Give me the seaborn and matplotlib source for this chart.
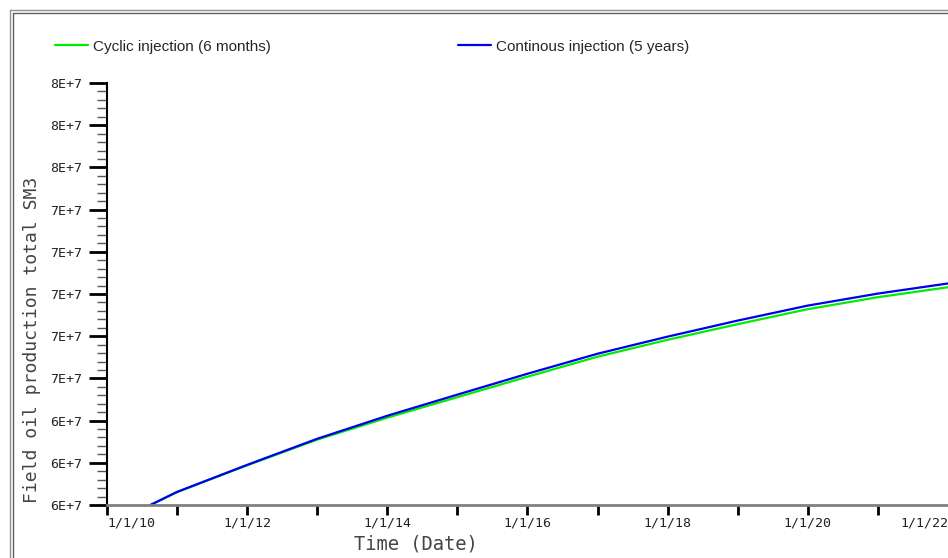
import numpy as np
import pandas as pd
import matplotlib
matplotlib.use("Agg")
import matplotlib.pyplot as plt
import matplotlib.dates as mdates
from matplotlib.lines import Line2D
import seaborn as sns

# ---- data ----
dates = ["2010-08-15", "2011-01-01", "2012-01-01", "2013-01-01", "2014-01-01",
         "2015-01-01", "2016-01-01", "2017-01-01", "2018-01-01", "2019-01-01",
         "2020-01-01", "2021-01-01", "2022-01-01"]
cyclic = [6.000e7, 6.061e7, 6.188e7, 6.310e7, 6.414e7, 6.511e7, 6.608e7,
          6.703e7, 6.783e7, 6.857e7, 6.928e7, 6.985e7, 7.032e7]
continuous = [6.000e7, 6.062e7, 6.190e7, 6.314e7, 6.423e7, 6.523e7, 6.622e7,
              6.717e7, 6.798e7, 6.874e7, 6.945e7, 7.002e7, 7.050e7]
series_names = ["Cyclic injection (6 months)", "Continous injection (5 years)"]
series_colors = ["#00ee00", "#0000ee"]

ytick_values = [6.0e7, 6.2e7, 6.4e7, 6.6e7, 6.8e7, 7.0e7, 7.2e7, 7.4e7, 7.6e7, 7.8e7, 8.0e7]
ytick_labels = ["6E+7", "6E+7", "6E+7", "7E+7", "7E+7", "7E+7", "7E+7", "7E+7", "8E+7", "8E+7", "8E+7"]
xtick_dates = ["2010-01-01", "2012-01-01", "2014-01-01", "2016-01-01",
               "2018-01-01", "2020-01-01", "2022-01-01"]
xtick_labels = ["1/1/10", "1/1/12", "1/1/14", "1/1/16", "1/1/18", "1/1/20", "1/1/22"]
xminor_dates = ["2011-01-01", "2013-01-01", "2015-01-01", "2017-01-01",
                "2019-01-01", "2021-01-01"]

df = pd.DataFrame({
    "date": pd.to_datetime(dates * 2),
    "value": cyclic + continuous,
    "series": [series_names[0]] * len(dates) + [series_names[1]] * len(dates),
})

sns.set_style("white")
plt.rcParams["font.family"] = ["DejaVu Sans Mono", "DejaVu Sans"]

fig = plt.figure(figsize=(9.48, 5.58), dpi=100)
ax = fig.add_axes([107 / 948, (558 - 505) / 558, (948 - 107) / 948, (505 - 83) / 558])

sns.lineplot(data=df, x="date", y="value", hue="series", hue_order=series_names,
             palette=series_colors, linewidth=1.6, ax=ax, legend=False)

ax.set_xlim(pd.Timestamp("2010-01-01"), pd.Timestamp("2022-01-01"))
ax.set_ylim(ytick_values[0], ytick_values[-1])

# y ticks
ax.set_yticks(ytick_values)
ax.set_yticklabels(ytick_labels)
ax.yaxis.set_minor_locator(matplotlib.ticker.AutoMinorLocator(5))
ax.tick_params(axis="y", which="major", direction="out", length=13, width=2,
               color="black", labelsize=9.5, labelcolor="#222222", pad=5, left=True)
ax.tick_params(axis="y", which="minor", direction="out", length=7, width=1,
               color="#555555", left=True)

# x ticks
xt = mdates.date2num(pd.to_datetime(xtick_dates))
ax.set_xticks(xt)
ax.set_xticklabels(xtick_labels)
ax.set_xticks(mdates.date2num(pd.to_datetime(xminor_dates)), minor=True)
ax.tick_params(axis="x", which="both", direction="out", length=7, width=2,
               color="black", labelsize=9.5, labelcolor="#222222", pad=1.5, bottom=True)
ax.get_xticklabels()[-1].set_ha("right")
ax.get_xticklabels()[0].set_ha("left")
ax.xaxis.get_major_ticks()[-1].tick1line.set_visible(False)

for s in ["top", "right"]:
    ax.spines[s].set_visible(False)
ax.spines["left"].set_color("black")
ax.spines["left"].set_linewidth(1.5)
ax.spines["bottom"].set_color("#808080")
ax.spines["bottom"].set_linewidth(2)

ax.set_xlabel("Time (Date)", fontsize=13.5, color="#444444")
ax.xaxis.set_label_coords((416 - 107) / 841, -(534 - 505) / 422)
ax.set_ylabel("Field oil production total SM3", fontsize=13, color="#444444")
ax.yaxis.set_label_coords(-(107 - 41) / 841, (505 - 340) / 422)
ax.grid(False)

# legend
handles = [Line2D([], [], color=c, linewidth=1.6) for c in series_colors]
fig.legend(handles, series_names, loc="upper left", bbox_to_anchor=(41 / 948, 1 - 26 / 558),
           ncol=2, frameon=False, handlelength=2.15, handletextpad=0.33,
           columnspacing=12.3, prop={"family": "Liberation Sans", "size": 11})

# outer double frame
fig.add_artist(Line2D([9.5 / 948, 9.5 / 948], [0, 1 - 9.5 / 558], transform=fig.transFigure, color="#909090", lw=1))
fig.add_artist(Line2D([12.5 / 948, 12.5 / 948], [0, 1 - 12.5 / 558], transform=fig.transFigure, color="#606060", lw=1))
fig.add_artist(Line2D([9.5 / 948, 1], [1 - 9.5 / 558, 1 - 9.5 / 558], transform=fig.transFigure, color="#909090", lw=1))
fig.add_artist(Line2D([12.5 / 948, 1], [1 - 12.5 / 558, 1 - 12.5 / 558], transform=fig.transFigure, color="#606060", lw=1))

fig.savefig("out.png", dpi=100)
